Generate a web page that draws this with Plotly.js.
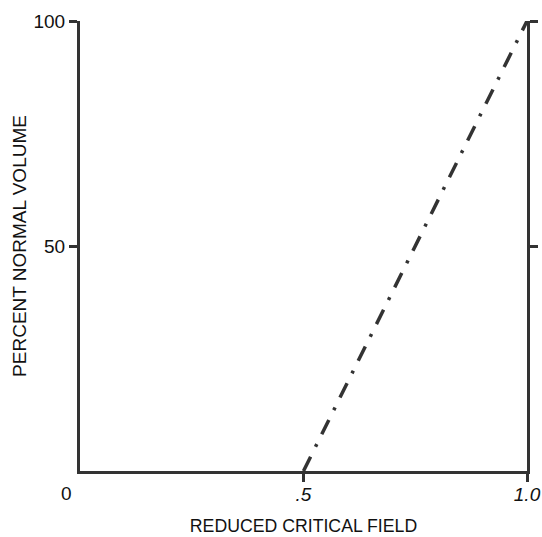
<!DOCTYPE html>
<html>
<head>
<meta charset="utf-8">
<script src="https://cdn.plot.ly/plotly-3.0.1.min.js"></script>
<style>html,body{margin:0;padding:0;background:#fff;}#chart{width:542px;height:537px;}</style>
</head>
<body>
<div id="chart"></div>
<script>
var reducedField = [0.5, 1.0];
var percentVolume = [0, 100];
var xTickVals = [0.5, 1.0];
var xTickText = ['.5', '1.0'];
var yTickVals = [50, 100];
var yTickText = ['50', '100'];

var fontFam = '"Liberation Sans", Arial, sans-serif';
var ink = '#333333';
var txt = '#111111';

var trace = {
  x: reducedField,
  y: percentVolume,
  type: 'scatter',
  mode: 'lines',
  line: {color: ink, width: 3.5, dash: '16px,11px,3px,11px'},
  hoverinfo: 'skip'
};

var layout = {
  width: 542, height: 537,
  margin: {l: 80, r: 15, t: 21, b: 66},
  paper_bgcolor: '#fff', plot_bgcolor: '#fff',
  showlegend: false,
  xaxis: {
    range: [0, 1], tickvals: xTickVals, ticktext: xTickText,
    showgrid: false, zeroline: false, showline: true, linecolor: ink, linewidth: 3,
    ticks: 'outside', ticklen: 8, tickwidth: 3, tickcolor: ink,
    ticklabelstandoff: -4,
    tickfont: {family: fontFam, size: 19, color: txt, style: 'italic'},
    title: {text: 'REDUCED CRITICAL FIELD', font: {family: fontFam, size: 17.7, color: txt}, standoff: 16},
    fixedrange: true
  },
  yaxis: {
    range: [0, 100], tickvals: yTickVals, ticktext: yTickText,
    showgrid: false, zeroline: false, showline: true, linecolor: ink, linewidth: 3,
    mirror: 'ticks',
    ticks: 'outside', ticklen: 8, tickwidth: 3, tickcolor: ink,
    tickfont: {family: fontFam, size: 19, color: txt},
    title: {text: 'PERCENT NORMAL VOLUME', font: {family: fontFam, size: 19, color: txt}, standoff: 2},
    fixedrange: true
  },
  annotations: [{
    text: '0', xref: 'paper', yref: 'paper', x: -0.03, y: 0, xanchor: 'center', yanchor: 'top',
    yshift: -10, showarrow: false, font: {family: fontFam, size: 19, color: txt}
  }]
};

Plotly.newPlot('chart', [trace], layout, {displayModeBar: false, staticPlot: true});
</script>
</body>
</html>
